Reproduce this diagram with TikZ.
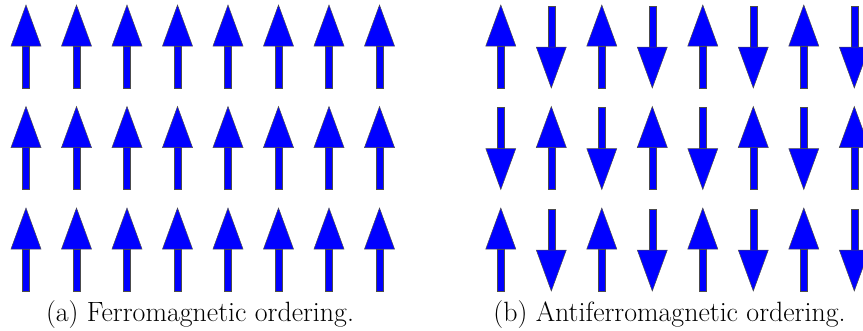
\documentclass[tikz,border=0pt]{standalone}
\begin{document}
\begin{tikzpicture}[x=1pt,y=-1pt,
  spin/.style={fill=blue,draw=black!70,line width=0.5pt,line join=miter},
  captext/.style={font=\fontsize{27.9}{32}\selectfont,anchor=base,inner sep=0pt}]
\useasboundingbox (0,0) rectangle (863,330);
\clip (0,0) rectangle (863,330);
% up arrow: tip at (x,y)
\newcommand{\uparr}[2]{%
  \draw[spin] (#1-3.5,#2+41) rectangle (#1+3.5,#2+83);
  \draw[spin] (#1,#2) -- (#1+15,#2+41) -- (#1-15,#2+41) -- cycle;}
\newcommand{\dnarr}[2]{%
  \draw[spin] (#1-3.5,#2+1) rectangle (#1+3.5,#2+42);
  \draw[spin] (#1,#2+83) -- (#1+15,#2+42) -- (#1-15,#2+42) -- cycle;}
% (a) ferromagnetic
\foreach \r in {0,1,2}{
  \foreach \c in {0,...,7}{
    \pgfmathsetmacro{\xx}{26+50.5*\c}
    \pgfmathsetmacro{\yy}{5+101.5*\r}
    \uparr{\xx}{\yy}
  }}
% (b) antiferromagnetic
\foreach \r in {0,1,2}{
  \foreach \c in {0,...,7}{
    \pgfmathsetmacro{\xx}{500.8+50.5*\c}
    \pgfmathsetmacro{\yy}{5+101.5*\r}
    \pgfmathtruncatemacro{\parity}{mod(\r+\c,2)}
    \ifnum\parity=0 \uparr{\xx}{\yy}\else\dnarr{\xx}{\yy}\fi
  }}
\node[captext] (capa) at (200,321) {(a) Ferromagnetic ordering.};
\node[captext] (capb) at (669.5,321) {(b) Antiferromagnetic ordering.};
\end{tikzpicture}
\end{document}
